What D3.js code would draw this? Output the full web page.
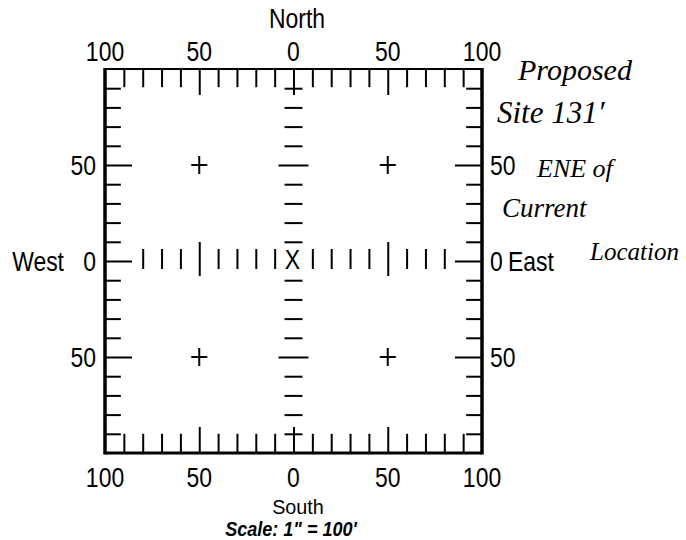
<!DOCTYPE html>
<html>
<head>
<meta charset="utf-8">
<script src="https://cdn.jsdelivr.net/npm/d3@7"></script>
<style>
  body { margin: 0; background: #fff; }
  svg { display: block; }
  .lbl { font-family: "Liberation Sans", Arial, sans-serif; font-size: 27px; fill: #000; }
  .hand { font-family: "Liberation Serif", serif; font-style: italic; fill: #000; }
  .tick line { stroke: #000; stroke-width: 2; }
</style>
</head>
<body>
<div id="chart"></div>
<script>
// grid values (feet from current location)
const edgeMinor = [-90, -80, -70, -60, -40, -30, -20, -10, 10, 20, 30, 40, 60, 70, 80, 90];
const edgeMajor = [-50, 0, 50];
const rowMinor = [-80, -70, -60, -40, -30, -20, -10, 10, 20, 30, 40, 60, 70, 80];
const colMinor = [-90, -80, -70, -60, -40, -30, -20, -10, 10, 20, 30, 40, 60, 70, 80, 90];
const centerMajor = [-50, 50];
const axisLabels = [-100, -50, 0, 50, 100];
const sideLabels = [50, 0, -50];
const plusMarks = [[-50, 50], [50, 50], [-50, -50], [50, -50]];
const noteLines = ["Proposed", "Site  131\u2032", "ENE   of", "Current", "Location"];

const W = 686, H = 540;
const svg = d3.select("#chart").append("svg").attr("width", W).attr("height", H);

const x = d3.scaleLinear().domain([-100, 100]).range([105, 482]);
const y = d3.scaleLinear().domain([-100, 100]).range([453, 69]);

const stepX = x(-90) - x(-100);
const stepY = y(90) - y(100);
const narrow = "scale(0.85,1.05)";

// helper: tick-only axis
function ticks(axis, vals, size, tx, ty) {
  const g = svg.append("g")
    .attr("transform", `translate(${tx},${ty})`)
    .call(axis.tickValues(vals).tickSize(size).tickFormat(""));
  g.select(".domain").remove();
  return g;
}

function label(tx, ty, txt, anchor) {
  return svg.append("text").attr("class", "lbl")
    .attr("transform", `translate(${tx},${ty}) ${narrow}`)
    .attr("text-anchor", anchor).text(txt);
}

// top & bottom edges
ticks(d3.axisBottom(x), edgeMinor, stepY - 1, 0, y(100));
ticks(d3.axisBottom(x), edgeMajor, 26, 0, y(100));
ticks(d3.axisTop(x), edgeMinor, stepY, 0, y(-100));
ticks(d3.axisTop(x), edgeMajor, 26, 0, y(-100));
// left & right edges
ticks(d3.axisRight(y), edgeMinor, stepX - 3, x(-100), 0);
ticks(d3.axisRight(y), edgeMajor, 27, x(-100), 0);
ticks(d3.axisLeft(y), edgeMinor, stepX - 3, x(100), 0);
ticks(d3.axisLeft(y), edgeMajor, 27, x(100), 0);

// centre row (vertical ticks) and centre column (horizontal ticks)
ticks(d3.axisBottom(x), rowMinor, 20, 0, y(0) - 12);
ticks(d3.axisBottom(x), centerMajor, 34, 0, y(0) - 19);
ticks(d3.axisRight(y), colMinor, 18, x(0) - 9, 0);
ticks(d3.axisRight(y), centerMajor, 30, x(0) - 15, 0);

// border
const border = [
  { x1: x(-100), y1: y(100), x2: x(100), y2: y(100), w: 2 },
  { x1: x(-100), y1: y(-100), x2: x(100), y2: y(-100), w: 3 },
  { x1: x(-100), y1: y(100) - 1, x2: x(-100), y2: y(-100) + 1.5, w: 3.5 },
  { x1: x(100), y1: y(100) - 1, x2: x(100), y2: y(-100) + 1.5, w: 3.5 }
];
svg.selectAll(".edge").data(border).join("line")
  .attr("x1", d => d.x1).attr("y1", d => d.y1)
  .attr("x2", d => d.x2).attr("y2", d => d.y2)
  .attr("stroke", "#000").attr("stroke-width", d => d.w);

// plus marks
const plus = svg.selectAll(".plus").data(plusMarks).join("g")
  .attr("transform", d => `translate(${x(d[0])},${y(d[1])})`);
plus.append("line").attr("x1", -8).attr("x2", 8).attr("stroke", "#000").attr("stroke-width", 2);
plus.append("line").attr("y1", -9).attr("y2", 9).attr("stroke", "#000").attr("stroke-width", 2);

// centre X
label(x(0) - 1, y(0) + 8, "X", "middle");

// top / bottom numbers
axisLabels.forEach(d => {
  label(x(d), 61, Math.abs(d), "middle");
  label(x(d), 487, Math.abs(d), "middle");
});

// side numbers
sideLabels.forEach(d => {
  label(96, y(d) + 10, Math.abs(d), "end");
  label(490, y(d) + 10, Math.abs(d), "start");
});

label(64, y(0) + 10, "West", "end");
label(508, y(0) + 10, "East", "start");
label(297, 28, "North", "middle");
svg.append("text").attr("class", "lbl")
  .attr("transform", `translate(298,514) scale(0.9,0.95)`)
  .attr("text-anchor", "middle").style("font-size", "22px").text("South");
svg.append("text").attr("class", "lbl")
  .attr("transform", `translate(291,536) scale(0.95,1.05)`)
  .attr("text-anchor", "middle").style("font-weight", "bold").style("font-style", "italic")
  .style("font-size", "19px").text("Scale: 1\" = 100'");

// handwritten note
const notePos = [
  { x: 518, y: 80, size: 30 },
  { x: 497, y: 123, size: 31 },
  { x: 537, y: 177, size: 26 },
  { x: 502, y: 217, size: 27 },
  { x: 590, y: 260, size: 25 }
];
svg.selectAll(".note").data(noteLines).join("text").attr("class", "hand")
  .attr("x", (d, i) => notePos[i].x).attr("y", (d, i) => notePos[i].y)
  .style("font-size", (d, i) => notePos[i].size + "px")
  .text(d => d);
</script>
</body>
</html>
